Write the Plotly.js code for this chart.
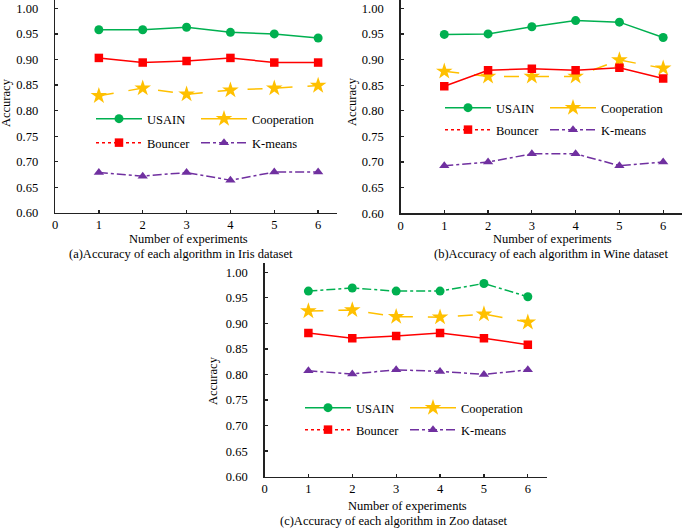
<!DOCTYPE html>
<html><head><meta charset="utf-8">
<script src="https://cdn.plot.ly/plotly-3.0.1.min.js"></script>
<style>html,body{margin:0;padding:0;background:#fff}</style>
</head><body><div id="chart" style="width:685px;height:528px"></div>
<script>
// ---- data ----
const experiments = [1, 2, 3, 4, 5, 6];
const xTickVals = [0, 1, 2, 3, 4, 5, 6];
const yTickVals = [0.60, 0.65, 0.70, 0.75, 0.80, 0.85, 0.90, 0.95, 1.00];
const seriesNames = ['USAIN', 'Cooperation', 'Bouncer', 'K-means'];

const irisUSAIN       = [0.958, 0.958, 0.963, 0.953, 0.950, 0.942];
const irisCooperation = [0.829, 0.844, 0.832, 0.840, 0.844, 0.849];
const irisBouncer     = [0.903, 0.894, 0.897, 0.903, 0.894, 0.894];
const irisKmeans      = [0.679, 0.672, 0.679, 0.664, 0.680, 0.680];

const wineUSAIN       = [0.949, 0.950, 0.964, 0.976, 0.973, 0.943];
const wineCooperation = [0.877, 0.867, 0.867, 0.867, 0.899, 0.883];
const wineBouncer     = [0.848, 0.879, 0.882, 0.879, 0.884, 0.863];
const wineKmeans      = [0.693, 0.700, 0.716, 0.716, 0.693, 0.700];

const zooUSAIN        = [0.963, 0.969, 0.963, 0.963, 0.978, 0.952];
const zooCooperation  = [0.924, 0.926, 0.913, 0.912, 0.918, 0.902];
const zooBouncer      = [0.881, 0.871, 0.875, 0.881, 0.871, 0.858];
const zooKmeans       = [0.807, 0.801, 0.809, 0.806, 0.800, 0.809];

const captions = ['(a)Accuracy of each algorithm in Iris dataset',
                  '(b)Accuracy of each algorithm in Wine dataset',
                  '(c)Accuracy of each algorithm in Zoo dataset'];
const xTitle = 'Number of experiments';
const yTitle = 'Accuracy';

// ---- styles ----
const FONT = 'Liberation Serif';
const W = 685, H = 528;
const colors = {USAIN: '#00B050', Cooperation: '#FFC000', Bouncer: '#FF0000', 'K-means': '#7030A0'};
const symbols = {USAIN: 'circle', Cooperation: 'star', Bouncer: 'square', 'K-means': 'triangle-up'};
const msize = {USAIN: 9, Cooperation: 12.5, Bouncer: 8.5, 'K-means': 9};
const legendDash = {USAIN: 'solid', Cooperation: 'solid', Bouncer: 'dot', 'K-means': 'dashdot'};

// legend item anchor positions (px): [left col x, right col x, row1 y, row2 y]
const panels = [
  {xa: 'x', ya: 'y', vals: [irisUSAIN, irisCooperation, irisBouncer, irisKmeans],
   dash: ['solid', 'longdash', 'solid', 'dashdot'], leg: [91, 196, 119, 143]},
  {xa: 'x2', ya: 'y2', vals: [wineUSAIN, wineCooperation, wineBouncer, wineKmeans],
   dash: ['solid', 'longdash', 'solid', 'dashdot'], leg: [440, 545, 108, 130]},
  {xa: 'x3', ya: 'y3', vals: [zooUSAIN, zooCooperation, zooBouncer, zooKmeans],
   dash: ['dashdot', 'longdash', 'solid', 'dashdot'], leg: [300, 405, 408, 430]}
];

function leg(xpx, ypx) {
  return {x: xpx / W, y: 1 - ypx / H, xanchor: 'left', yanchor: 'middle', orientation: 'h',
    bgcolor: 'rgba(0,0,0,0)', borderwidth: 0, itemwidth: 46,
    font: {family: FONT, size: 12.5, color: '#000'}, itemclick: false, itemdoubleclick: false};
}

const traces = [];
const layoutLegends = {};
let legCount = 0;
panels.forEach((p, pi) => {
  [3, 1, 2, 0].forEach(si => {
    const name = seriesNames[si];
    traces.push({
      type: 'scatter', mode: 'lines+markers', x: experiments, y: p.vals[si],
      xaxis: p.xa, yaxis: p.ya, name: name, showlegend: false, hoverinfo: 'x+y+name',
      line: {color: colors[name], width: 1.5, dash: p.dash[si]},
      marker: {symbol: symbols[name], size: msize[name], color: colors[name], line: {width: 0}}
    });
  });
  seriesNames.forEach((name, si) => {
    legCount += 1;
    const id = legCount === 1 ? 'legend' : 'legend' + legCount;
    const col = (si === 0 || si === 2) ? p.leg[0] : p.leg[1];
    const row = si < 2 ? p.leg[2] : p.leg[3];
    layoutLegends[id] = leg(col, row);
    traces.push({
      type: 'scatter', mode: 'lines+markers', x: [null], y: [null],
      xaxis: p.xa, yaxis: p.ya, name: name, showlegend: true, legend: id,
      line: {color: colors[name], width: 1.5, dash: legendDash[name]},
      marker: {symbol: symbols[name], size: msize[name], color: colors[name], line: {width: 0}}
    });
  });
});

function xaxisDef(domain, anchor) {
  return {domain: domain, anchor: anchor, range: [0, 6.43], tickvals: xTickVals,
    showline: true, linecolor: '#222', linewidth: 1.3, ticks: 'inside', ticklen: 3,
    tickcolor: '#222', tickwidth: 1.3, showgrid: false, zeroline: false,
    tickfont: {family: FONT, size: 12.5, color: '#000'}, fixedrange: true};
}
function yaxisDef(domain, anchor, top) {
  return {domain: domain, anchor: anchor, range: [0.6, top], tickvals: yTickVals, tickformat: '.2f',
    showline: true, linecolor: '#222', linewidth: 1.3, ticks: 'inside', ticklen: 3,
    tickcolor: '#222', tickwidth: 1.3, showgrid: false, zeroline: false, ticklabelstandoff: 13,
    tickfont: {family: FONT, size: 12.5, color: '#000'}, fixedrange: true};
}

function ann(text, xpx, ypx, angle) {
  return {text: text, x: xpx / W, y: 1 - ypx / H, xref: 'paper', yref: 'paper',
    xanchor: 'center', yanchor: 'middle', showarrow: false, textangle: angle || 0,
    font: {family: FONT, size: 12.5, color: '#000'}};
}

const layout = Object.assign({
  width: W, height: H, margin: {l: 0, r: 0, t: 0, b: 0},
  paper_bgcolor: '#fff', plot_bgcolor: 'rgba(0,0,0,0)', showlegend: true,
  xaxis: xaxisDef([55 / W, 337 / W], 'y'),
  yaxis: yaxisDef([1 - 213 / H, 1], 'x', 1.0162),
  xaxis2: xaxisDef([400.5 / W, 682 / W], 'y2'),
  yaxis2: yaxisDef([1 - 213.3 / H, 1], 'x2', 1.0162),
  xaxis3: xaxisDef([264.5 / W, 546.7 / W], 'y3'),
  yaxis3: yaxisDef([1 - 476.7 / H, 1 - 263 / H], 'x3', 1.018),
  annotations: [
    ann(xTitle, 188, 239), ann(captions[0], 181, 254),
    ann(xTitle, 552, 239), ann(captions[1], 551, 254),
    ann(xTitle, 407, 505.5), ann(captions[2], 394, 521),
    ann(yTitle, 6, 103, -90), ann(yTitle, 352, 102, -90), ann(yTitle, 213, 380, -90)
  ]
}, layoutLegends);

Plotly.newPlot('chart', traces, layout, {displayModeBar: false, staticPlot: true});
</script></body></html>
